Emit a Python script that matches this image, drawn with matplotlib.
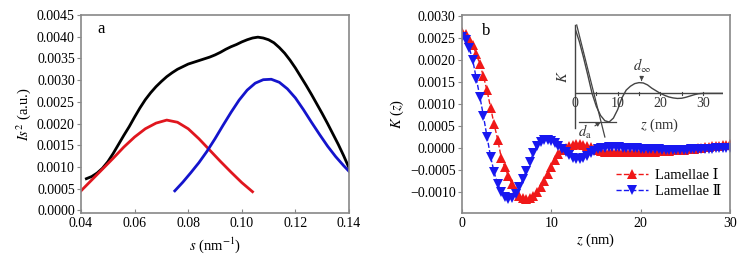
import numpy as np
import matplotlib
matplotlib.use("Agg")
import matplotlib.pyplot as plt
from matplotlib.ticker import FuncFormatter, MultipleLocator

plt.rcParams['font.family'] = ['Liberation Serif', 'DejaVu Serif']
plt.rcParams['mathtext.fontset'] = 'stix'
plt.rcParams['font.size'] = 10

# ---------------- Panel a data ----------------
s_total = [0.042, 0.044, 0.046, 0.048, 0.050, 0.052, 0.054, 0.056, 0.058, 0.060,
           0.062, 0.064, 0.066, 0.068, 0.070, 0.072, 0.074, 0.076, 0.078, 0.080,
           0.082, 0.084, 0.086, 0.088, 0.090, 0.092, 0.094, 0.096, 0.098, 0.100,
           0.102, 0.104, 0.106, 0.108, 0.110, 0.112, 0.114, 0.116, 0.118, 0.120,
           0.122, 0.124, 0.126, 0.128, 0.130, 0.132, 0.134, 0.136, 0.138, 0.140]
I_total = [0.00073, 0.00078, 0.00086, 0.00097, 0.00112, 0.00131, 0.00152, 0.00173, 0.00193, 0.00215,
           0.00236, 0.00255, 0.00271, 0.00285, 0.00297, 0.00308, 0.00317, 0.00325, 0.00331, 0.00337,
           0.00341, 0.00345, 0.00349, 0.00353, 0.00358, 0.00364, 0.00371, 0.00377, 0.00382, 0.00388,
           0.00393, 0.00397, 0.00399, 0.00397, 0.00393, 0.00386, 0.00375, 0.00362, 0.00346, 0.00328,
           0.00308, 0.00288, 0.00267, 0.00245, 0.00223, 0.00200, 0.00176, 0.00152, 0.00126, 0.00098]

s_red = [0.040, 0.044, 0.048, 0.052, 0.056, 0.060, 0.064, 0.068, 0.072,
         0.076, 0.080, 0.084, 0.088, 0.092, 0.096, 0.100, 0.104]
I_red = [0.00045, 0.00070, 0.00095, 0.00120, 0.00146, 0.00169, 0.00188, 0.00201, 0.00208,
         0.00203, 0.00188, 0.00165, 0.00139, 0.00113, 0.00088, 0.00064, 0.00043]

s_blue = [0.075, 0.078, 0.081, 0.084, 0.087, 0.090, 0.093, 0.096, 0.099, 0.102, 0.105, 0.108,
          0.111, 0.114, 0.117, 0.120, 0.123, 0.126, 0.129, 0.132, 0.135, 0.138, 0.140]
I_blue = [0.00045, 0.00065, 0.00087, 0.00110, 0.00136, 0.00165, 0.00196, 0.00226, 0.00254, 0.00277, 0.00293, 0.00301,
          0.00302, 0.00295, 0.00280, 0.00259, 0.00232, 0.00203, 0.00175, 0.00148, 0.00124, 0.00103, 0.00090]

# ---------------- Panel b data ----------------
z = np.linspace(0, 30, 76)  # sampling grid, step 0.4 nm
K1 = [0.00263, 0.00258, 0.00247, 0.00233, 0.00214, 0.00190, 0.00163, 0.00131, 0.00092, 0.00054,
      0.00019, -0.00022, -0.00043, -0.00064, -0.00082, -0.00098, -0.00109, -0.00114, -0.00116, -0.00114,
      -0.00108, -0.00099, -0.00087, -0.00074, -0.00058, -0.00042, -0.00026, -0.00013, -0.00005, 0.00001,
      0.00005, 0.00008, 0.00010, 0.00010, 0.00008, 0.00005, 0.00002, -0.00001, -0.00004, -0.00006,
      -0.00008, -0.00009, -0.00009, -0.00009, -0.00009, -0.00009, -0.00008, -0.00008, -0.00008, -0.00008,
      -0.00008, -0.00008, -0.00008, -0.00008, -0.00008, -0.00007, -0.00007, -0.00006, -0.00006, -0.00005,
      -0.00005, -0.00004, -0.00004, -0.00003, -0.00002, -0.00001, 0.00000, 0.00001, 0.00002, 0.00003,
      0.00004, 0.00005, 0.00006, 0.00007, 0.00008, 0.00009]
K2 = [0.00253, 0.00245, 0.00228, 0.00200, 0.00158, 0.00117, 0.00073, 0.00026, -0.00019, -0.00055,
      -0.00081, -0.00099, -0.00110, -0.00115, -0.00113, -0.00104, -0.00089, -0.00071, -0.00051, -0.00032,
      -0.00010, 0.00006, 0.00015, 0.00019, 0.00019, 0.00017, 0.00012, 0.00005, -0.00002, -0.00009,
      -0.00016, -0.00022, -0.00025, -0.00025, -0.00022, -0.00017, -0.00012, -0.00007, -0.00003, 0.00000,
      0.00001, 0.00002, 0.00002, 0.00002, 0.00002, 0.00001, 0.00001, 0.00000, 0.00000, 0.00000,
      -0.00001, -0.00001, -0.00002, -0.00002, -0.00003, -0.00003, -0.00004, -0.00004, -0.00004, -0.00004,
      -0.00004, -0.00004, -0.00004, -0.00004, -0.00003, -0.00003, -0.00003, -0.00002, -0.00002, -0.00001,
      -0.00001, 0.00000, 0.00000, 0.00000, 0.00001, 0.00001]
legend_labels = ['Lamellae \u2160', 'Lamellae \u2161']

# ---------------- Inset data (schematic) ----------------
z_in = [0, 1, 2, 3, 4, 5, 6, 7, 8, 9, 10, 11, 12, 13, 14, 15, 16, 17, 18, 19, 20,
        21, 22, 23, 24, 25, 26, 27, 28, 29, 30, 31, 32, 33, 34, 35]
K_in = [1.0, 0.80, 0.55, 0.28, 0.0, -0.20, -0.34, -0.42, -0.44, -0.38, -0.25, -0.07, 0.05,
        0.11, 0.15, 0.165, 0.16, 0.13, 0.08, 0.04, 0.0, -0.03, -0.055, -0.07, -0.078, -0.075,
        -0.06, -0.04, -0.02, -0.005, 0.0, 0.0, 0.0, 0.0, 0.0, 0.0]

W, H = 750, 259
fig = plt.figure(figsize=(7.5, 2.59), dpi=100)

def fx(px):
    return px / W

def fy(py):
    return 1 - py / H

spine_col = '#888888'

def style(ax):
    for sp in ax.spines.values():
        sp.set_color(spine_col)
        sp.set_linewidth(1.2)
    ax.tick_params(axis='y', direction='out', length=3, color=spine_col, labelsize=10, pad=1.5)
    ax.tick_params(axis='x', direction='in', length=3, color=spine_col, labelsize=10, pad=3)

fmt4 = FuncFormatter(lambda v, p: ('%.4f' % v).replace('-', '\u2212') if abs(v) > 1e-9 else '0.0000')

# Panel a
axa = fig.add_axes([fx(81), fy(213), fx(349 - 81), (213 - 15) / H])
axa.plot(s_total, I_total, color='black', lw=2.0)
axa.plot(s_red, I_red, color='#e0161e', lw=2.0)
axa.plot(s_blue, I_blue, color='#1414cc', lw=2.0)
axa.set_xlim(0.04, 0.14)
axa.set_ylim(-0.00006, 0.0045)
axa.xaxis.set_major_locator(MultipleLocator(0.02))
axa.yaxis.set_major_locator(MultipleLocator(0.0005))
axa.xaxis.set_major_formatter(FuncFormatter(lambda v, p: '%.2f' % v))
axa.yaxis.set_major_formatter(fmt4)
style(axa)
axa.set_xlabel(r'$s$ (nm$^{-1}$)', fontsize=10.5, labelpad=4)
axa.set_ylabel(r'$Is^2$ (a.u.)', fontsize=10.5, labelpad=3)
axa.text(0.06, 0.93, 'a', transform=axa.transAxes, fontsize=12, va='center')

# Panel b
axb = fig.add_axes([fx(462), fy(213), fx(730 - 462), (213 - 15) / H])
axb.plot(z, K1, color='#f01818', lw=1.0, ls='--', marker='^', ms=6.5,
         markeredgewidth=0, label=legend_labels[0])
axb.plot(z, K2, color='#1818f0', lw=1.0, ls='--', marker='v', ms=6.5,
         markeredgewidth=0, label=legend_labels[1])
axb.set_xlim(0, 30)
axb.set_ylim(-0.00147, 0.00302)
axb.xaxis.set_major_locator(MultipleLocator(10))
axb.yaxis.set_major_locator(MultipleLocator(0.0005))
axb.yaxis.set_major_formatter(fmt4)
style(axb)
axb.set_xlabel(r'$z$ (nm)', fontsize=10.5, labelpad=1)
axb.set_ylabel(r'$K$ ($z$)', fontsize=10.5, labelpad=3)
axb.text(0.075, 0.92, 'b', transform=axb.transAxes, fontsize=12, va='center')
axb.legend(loc='center left', bbox_to_anchor=(fx(616), fy(183.5)), bbox_transform=fig.transFigure,
           frameon=False, numpoints=1, handlelength=2.2, handletextpad=0.5, labelspacing=0.15,
           borderpad=0, borderaxespad=0, fontsize=10.5)

# Inset
axi = fig.add_axes([fx(575), fy(137), fx(723 - 575), (137 - 25) / H])
axi.patch.set_alpha(0)
for sp in axi.spines.values():
    sp.set_visible(False)
axi.set_xlim(0, 34.7)
axi.set_ylim(-0.67, 1.05)
ic = '#444444'
axi.plot(z_in, K_in, color=ic, lw=1.0)
axi.plot([0, 34.7], [0, 0], color=ic, lw=1.0)
axi.plot([0, 0], [-0.53, 1.05], color=ic, lw=1.0, clip_on=False)
for t in [5, 10, 15, 20, 25, 30]:
    axi.plot([t, t], [-0.025, 0.025], color=ic, lw=0.8)
axi.plot([0.4, 7.0], [1.05, -0.67], color=ic, lw=0.9, clip_on=False)
axi.plot([0.9, 9.5], [-0.44, -0.44], color=ic, lw=0.9)
axi.set_xticks([])
axi.set_yticks([])
for t in [0, 10, 20, 30]:
    axi.text(t, -0.06, str(t), ha='center', va='top', fontsize=10, color='#333333')
axi.text(19.9, -0.49, r'$z$ (nm)', ha='center', va='center', fontsize=10.5, color='#333333')
axi.text(-2.8, 0.25, r'$K$', ha='center', va='center', rotation=90, fontsize=10.5, color='#333333')
axi.annotate(r'$d_{\rm a}$', xy=(6.0, -0.44), xytext=(2.4, -0.6), ha='center', va='center',
             fontsize=10.5, color='#333333', annotation_clip=False,
             arrowprops=dict(arrowstyle='-|>', color=ic, lw=0.8, mutation_scale=6, shrinkA=0, shrinkB=0))
axi.annotate(r'$d_{\infty}$', xy=(15.6, 0.19), xytext=(15.7, 0.42), ha='center', va='center',
             fontsize=10.5, color='#333333', annotation_clip=False,
             arrowprops=dict(arrowstyle='-|>', color=ic, lw=0.8, mutation_scale=6, shrinkA=2, shrinkB=0))

fig.savefig('out.png', dpi=100)
